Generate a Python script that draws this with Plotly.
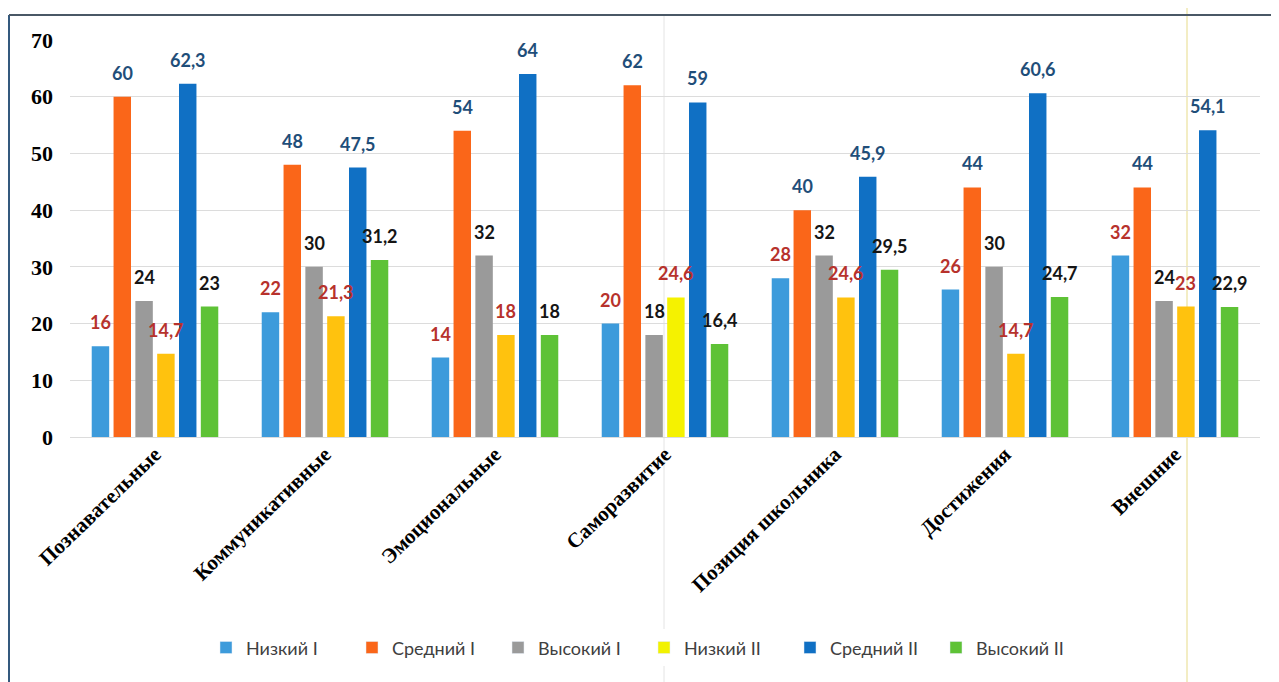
import plotly.graph_objects as go

categories = ["Познавательные", "Коммуникативные", "Эмоциональные", "Саморазвитие",
              "Позиция школьника", "Достижения", "Внешние"]

series_names = ["Низкий I", "Средний I", "Высокий I", "Низкий II", "Средний II", "Высокий II"]

nizkiy_1 = [16, 22, 14, 20, 28, 26, 32]
sredniy_1 = [60, 48, 54, 62, 40, 44, 44]
vysokiy_1 = [24, 30, 32, 18, 32, 30, 24]
nizkiy_2 = [14.7, 21.3, 18, 24.6, 24.6, 14.7, 23]
sredniy_2 = [62.3, 47.5, 64, 59, 45.9, 60.6, 54.1]
vysokiy_2 = [23, 31.2, 18, 16.4, 29.5, 24.7, 22.9]

y_ticks = [0, 10, 20, 30, 40, 50, 60, 70]

all_values = [nizkiy_1, sredniy_1, vysokiy_1, nizkiy_2, sredniy_2, vysokiy_2]

bar_colors = ["#3D9BDB", "#FA6619", "#9A9A9A", "#FFC20E", "#1070C4", "#5EC236"]
label_colors = ["#B7322C", "#1F4E79", "#151515", "#B7322C", "#1F4E79", "#151515"]
legend_colors = ["#3D9BDB", "#FA6619", "#9A9A9A", "#F2F200", "#1070C4", "#5EC236"]

# page body has an 8px margin, so the figure is laid out 8px up/left of the photo
W, H = 1279, 682
M_L, M_R, M_T, M_B = 62, 27, 32, 253
BARGAP = 0.23
BARGROUPGAP = 0.2


def fmt(v):
    s = f"{v:g}"
    return s.replace(".", ",")


fig = go.Figure()
n_series = len(series_names)
for i, (name, vals) in enumerate(zip(series_names, all_values)):
    colors = [bar_colors[i]] * len(vals)
    if i == 3:
        colors[3] = "#F5F200"  # Саморазвитие bar is bright yellow
    fig.add_trace(go.Bar(
        name=name,
        x=categories,
        y=vals,
        marker=dict(color=colors, line=dict(width=0)),
        showlegend=False,
        hoverinfo="x+y+name",
    ))
    # legend proxy (separate hidden axis so it does not take a group slot)
    fig.add_trace(go.Bar(
        name=name, x=[None], y=[None], xaxis="x2",
        marker=dict(color=legend_colors[i]),
        showlegend=True,
    ))

plot_w = W - M_L - M_R
plot_h = H - M_T - M_B
slot_px = plot_w / len(categories) * (1 - BARGAP) / n_series
annotations = []
for i, vals in enumerate(all_values):
    for c, v in zip(categories, vals):
        annotations.append(dict(
            x=c, y=v, xref="x", yref="y",
            text=fmt(v), showarrow=False,
            xshift=(i - (n_series - 1) / 2) * slot_px,
            yshift=24, yanchor="middle", xanchor="center",
            font=dict(family="Lato, Open Sans, sans-serif", size=18,
                      color=label_colors[i], weight="bold"),
        ))


def px_x(p):
    return (p - M_L) / plot_w


def px_y(p):
    return (H - M_B - p) / plot_h


frame_shapes = [
    # scanned page frame: left and top edges
    dict(type="line", xref="paper", yref="paper",
         x0=px_x(1), x1=px_x(1), y0=px_y(700), y1=px_y(7),
         line=dict(color="#34597E", width=2), layer="above"),
    dict(type="line", xref="paper", yref="paper",
         x0=px_x(1), x1=px_x(1300), y0=px_y(7), y1=px_y(7),
         line=dict(color="#4A5866", width=2), layer="above"),
    # faint vertical scan lines
    dict(type="line", xref="paper", yref="paper",
         x0=px_x(656), x1=px_x(656), y0=px_y(700), y1=px_y(7),
         line=dict(color="#E4E4E4", width=1), layer="below"),
    dict(type="line", xref="paper", yref="paper",
         x0=px_x(1179), x1=px_x(1179), y0=px_y(700), y1=px_y(0),
         line=dict(color="#F3EDC4", width=2), layer="below"),
]

fig.update_layout(
    width=W, height=H,
    barmode="group",
    bargap=BARGAP,
    bargroupgap=BARGROUPGAP,
    paper_bgcolor="white",
    plot_bgcolor="rgba(0,0,0,0)",
    margin=dict(l=M_L, r=M_R, t=M_T, b=M_B, autoexpand=False),
    showlegend=True,
    legend=dict(
        orientation="h",
        x=px_x(198), xanchor="left",
        y=-0.531, yanchor="middle",
        font=dict(family="Lato, Open Sans, sans-serif", size=18, color="#404040"),
        itemwidth=30,
        entrywidth=101,
        traceorder="normal",
    ),
    xaxis=dict(
        tickangle=-44,
        tickfont=dict(family="Liberation Serif, serif", size=21, color="black",
                      weight="bold"),
        showgrid=False,
        showline=False,
        ticks="",
    ),
    xaxis2=dict(overlaying="x", visible=False, range=[0, 1]),
    yaxis=dict(
        range=[0, 70],
        tickvals=y_ticks,
        tickfont=dict(family="Liberation Serif, serif", size=22, color="black", weight="bold"),
        showgrid=True,
        gridcolor="#DCDCDC",
        gridwidth=1,
        zeroline=True,
        zerolinecolor="#DCDCDC",
        zerolinewidth=1,
        showline=False,
        ticks="",
        ticklabelstandoff=16,
    ),
    annotations=annotations,
    shapes=frame_shapes,
)

fig.write_html("out.html")
